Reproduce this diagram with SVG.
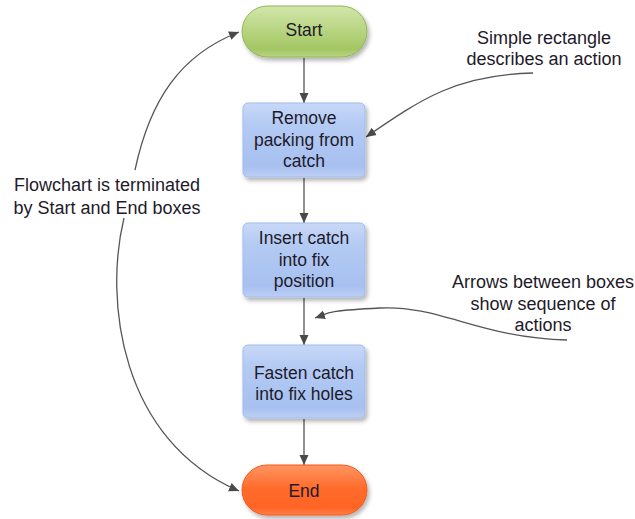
<svg xmlns="http://www.w3.org/2000/svg" width="635" height="519" viewBox="0 0 635 519">
<style>
text{font-family:"Liberation Sans",Arial,sans-serif;fill:#1e1a2a;text-anchor:middle}
.lbl{font-size:18px}
.nt{font-size:17.5px}
.con{fill:none;stroke:#555;stroke-width:1.3}
.act{fill:url(#gBlue);stroke:#a2bbec;stroke-width:1}
</style>
<defs>
<linearGradient id="gGreen" x1="0" y1="0" x2="0" y2="1">
<stop offset="0" stop-color="#d3e6ab"/>
<stop offset="0.5" stop-color="#b6d47f"/>
<stop offset="0.85" stop-color="#a4c664"/>
<stop offset="1" stop-color="#b9d585"/>
</linearGradient>
<linearGradient id="gBlue" x1="0" y1="0" x2="0" y2="1">
<stop offset="0" stop-color="#c8d8f8"/>
<stop offset="0.3" stop-color="#b3caf3"/>
<stop offset="0.85" stop-color="#a7c0f0"/>
<stop offset="1" stop-color="#bccff5"/>
</linearGradient>
<linearGradient id="gOrange" x1="0" y1="0" x2="0" y2="1">
<stop offset="0" stop-color="#ff9562"/>
<stop offset="0.45" stop-color="#ff6d2d"/>
<stop offset="0.85" stop-color="#ff6424"/>
<stop offset="1" stop-color="#ff8048"/>
</linearGradient>
<filter id="sh" x="-20%" y="-20%" width="140%" height="150%">
<feDropShadow dx="2" dy="3" stdDeviation="2" flood-color="#000" flood-opacity="0.3"/>
</filter>
<marker id="ah" viewBox="0 0 10 10" refX="10" refY="5" markerWidth="10" markerHeight="10" markerUnits="userSpaceOnUse" orient="auto">
<path d="M0,0.5 L10,5 L0,9.5 Z" fill="#4a4a4a"/>
</marker>
</defs>
<g id="connectors">
<line class="con" x1="304" y1="58" x2="304" y2="103" marker-end="url(#ah)"/>
<line class="con" x1="304" y1="178" x2="304" y2="223" marker-end="url(#ah)"/>
<line class="con" x1="304" y1="298" x2="304" y2="345" marker-end="url(#ah)"/>
<line class="con" x1="304" y1="419" x2="304" y2="465" marker-end="url(#ah)"/>
<path class="con" d="M135,170 C150,100 180,55 239,32" marker-end="url(#ah)"/>
<path class="con" d="M124,218 C104,300 120,440 239,491" marker-end="url(#ah)"/>
<path class="con" d="M533,73 C455,75 420,100 366,137" marker-end="url(#ah)"/>
<path class="con" d="M567,340 C480,338 440,305 380,308 S330,313 315,318" marker-end="url(#ah)"/>
</g>
<g id="start">
<rect x="242" y="6" width="125" height="51" rx="25.5" fill="url(#gGreen)" stroke="#93b655" stroke-width="1" filter="url(#sh)"/>
<text class="nt" x="304" y="36">Start</text>
</g>
<g id="remove">
<rect class="act" x="243" y="103" width="122" height="74" rx="5" filter="url(#sh)"/>
<text class="nt" x="304" y="124">Remove</text>
<text class="nt" x="304" y="146">packing from</text>
<text class="nt" x="304" y="167">catch</text>
</g>
<g id="insert">
<rect class="act" x="243" y="223" width="122" height="74" rx="5" filter="url(#sh)"/>
<text class="nt" x="304" y="244">Insert catch</text>
<text class="nt" x="304" y="266">into fix</text>
<text class="nt" x="304" y="287">position</text>
</g>
<g id="fasten">
<rect class="act" x="243" y="345" width="122" height="73" rx="5" filter="url(#sh)"/>
<text class="nt" x="304" y="379">Fasten catch</text>
<text class="nt" x="304" y="400">into fix holes</text>
</g>
<g id="end">
<rect x="242" y="465" width="125" height="50" rx="25" fill="url(#gOrange)" stroke="#f05a1c" stroke-width="1" filter="url(#sh)"/>
<text class="nt" x="304" y="497">End</text>
</g>
<g id="label-terminated">
<text class="lbl" x="107" y="191">Flowchart is terminated</text>
<text class="lbl" x="107" y="214">by Start and End boxes</text>
</g>
<g id="label-rectangle">
<text class="lbl" x="544" y="44">Simple rectangle</text>
<text class="lbl" x="544" y="65">describes an action</text>
</g>
<g id="label-arrows">
<text class="lbl" x="543" y="288">Arrows between boxes</text>
<text class="lbl" x="543" y="310">show sequence of</text>
<text class="lbl" x="543" y="331">actions</text>
</g>
</svg>
